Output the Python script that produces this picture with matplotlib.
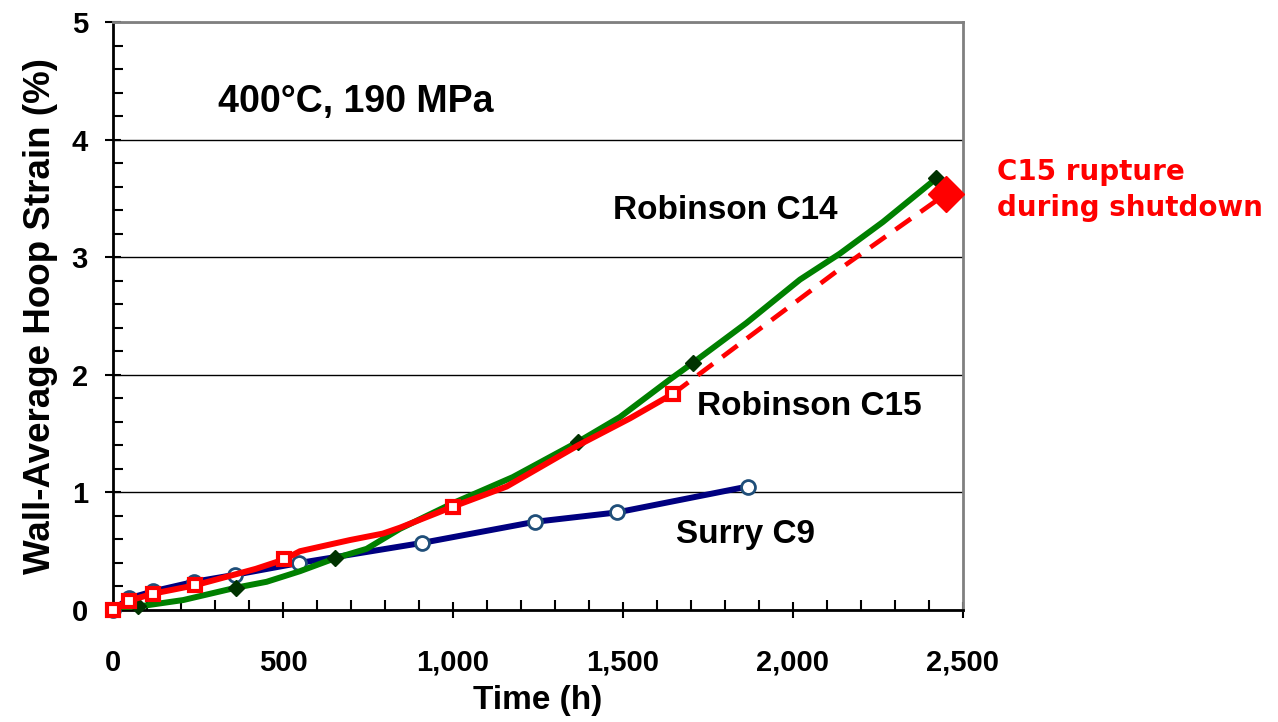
import matplotlib.pyplot as plt
import numpy as np

# Surry C9 (line through circle markers)
c9_hours = [0, 48, 119, 239, 360, 548, 908, 1241, 1483, 1867]
c9_strain = [0.0, 0.10, 0.16, 0.24, 0.30, 0.40, 0.57, 0.75, 0.83, 1.05]

# Robinson C15 curve and its markers
c15_hours = [0, 48, 119, 241, 420, 504, 550, 697, 794, 844, 1001, 1158, 1368, 1521, 1648]
c15_strain = [0.0, 0.08, 0.14, 0.21, 0.35, 0.43, 0.50, 0.595, 0.65, 0.70, 0.88, 1.05, 1.40, 1.63, 1.84]
c15_mark_hours = [0, 48, 119, 241, 504, 1001, 1648]
c15_mark_strain = [0.0, 0.08, 0.14, 0.21, 0.43, 0.88, 1.84]

# C15 extrapolation to rupture
ext_hours = [1648, 2138, 2451]
ext_strain = [1.84, 2.90, 3.54]

# Robinson C14 curve and its markers
c14_hours = [0, 75, 207, 362, 452, 550, 653, 746, 844, 1001, 1176, 1368, 1491, 1638, 1705, 1863, 2021, 2138, 2265, 2422]
c14_strain = [0.0, 0.03, 0.085, 0.19, 0.24, 0.33, 0.44, 0.52, 0.69, 0.91, 1.13, 1.43, 1.64, 1.96, 2.10, 2.44, 2.81, 3.03, 3.30, 3.67]
c14_mark_hours = [75, 362, 653, 1368, 1705, 2422]
c14_mark_strain = [0.03, 0.19, 0.44, 1.43, 2.10, 3.67]

plt.rcParams['font.family'] = ['Liberation Sans', 'DejaVu Sans']
plt.rcParams['font.weight'] = 'bold'

fig = plt.figure(figsize=(12.78, 7.22), dpi=100)
ax = fig.add_axes([0.0884, 0.1551, 0.665, 0.8144])

ax.plot(c9_hours, c9_strain, color='#000080', lw=4.3, zorder=3)
ax.plot(c9_hours, c9_strain, ls='none', marker='o', ms=10,
        mfc='white', mec='#1f4e79', mew=2, zorder=3.5, clip_on=False)

ax.plot(c14_hours, c14_strain, color='#008000', lw=4.3, zorder=4)
ax.plot(c14_mark_hours, c14_mark_strain, ls='none', marker='D', ms=8,
        color='#003300', zorder=5, clip_on=False)

ax.plot(ext_hours, ext_strain, color='red', lw=3.4, ls=(0, (4, 2.5)), zorder=6)
ax.plot(c15_hours, c15_strain, color='red', lw=4.3, zorder=6)
ax.plot(c15_mark_hours, c15_mark_strain, ls='none', marker='s', ms=8,
        mfc='white', mec='red', mew=3, zorder=7, clip_on=False)
ax.plot([ext_hours[-1]], [ext_strain[-1]], ls='none', marker='D', ms=18,
        color='red', zorder=7, clip_on=False)

ax.set_xlim(0, 2500)
ax.set_ylim(0, 5)
ax.set_xticks(np.arange(0, 2501, 500))
ax.set_xticks(np.arange(0, 2501, 100), minor=True)
ax.set_yticks(np.arange(0, 5.1, 1))
ax.set_yticks(np.arange(0, 5.01, 0.2), minor=True)
ax.set_xticklabels([f'{v:,}' for v in range(0, 2501, 500)])
ax.grid(axis='y', which='major', color='black', lw=1)
ax.tick_params(which='major', direction='inout', length=12, width=1.5,
               labelsize=21)
ax.tick_params(axis='x', which='major', pad=22)
ax.tick_params(axis='y', which='major', pad=12)
ax.tick_params(which='minor', direction='in', length=7, width=1.5)
for s in ['left', 'bottom']:
    ax.spines[s].set_linewidth(2)
    ax.spines[s].set_color('black')
for s in ['top', 'right']:
    ax.spines[s].set_linewidth(2)
    ax.spines[s].set_color('#808080')
for lbl in ax.get_xticklabels() + ax.get_yticklabels():
    lbl.set_fontweight('bold')

ax.set_xlabel('Time (h)', fontsize=24, fontweight='bold', labelpad=6)
ax.set_ylabel('Wall-Average Hoop Strain (%)', fontsize=26.5, fontweight='bold', labelpad=10)

ax.text(309, 4.32, '400°C, 190 MPa', fontsize=27, fontweight='bold', va='center')
ax.text(1470, 3.40, 'Robinson C14', fontsize=24, fontweight='bold', va='center')
ax.text(1718, 1.73, 'Robinson C15', fontsize=24, fontweight='bold', va='center')
ax.text(1656, 0.64, 'Surry C9', fontsize=24, fontweight='bold', va='center')
ax.text(2600, 3.57, 'C15 rupture\nduring shutdown', fontsize=20, fontweight='bold',
        color='red', va='center', family='DejaVu Sans', linespacing=1.35,
        clip_on=False)

plt.savefig('out.png', dpi=100)
